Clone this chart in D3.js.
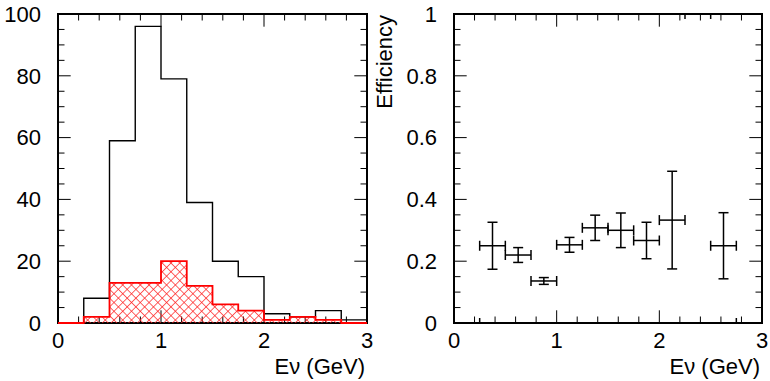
<!DOCTYPE html>
<html>
<head>
<meta charset="utf-8">
<script src="https://cdn.jsdelivr.net/npm/d3@7"></script>
<style>
  html, body { margin: 0; padding: 0; background: #fff; }
  svg { display: block; }
  text { font-family: "Liberation Sans", Arial, Helvetica, sans-serif; font-size: 22px; fill: #000; }
</style>
</head>
<body>
<svg id="chart" width="770" height="381"></svg>
<script>
// ---------------- data ----------------
const binEdges = [0, 0.25, 0.5, 0.75, 1.0, 1.25, 1.5, 1.75, 2.0, 2.25, 2.5, 2.75, 3.0];
const allEvents = [0, 8, 59, 96, 79, 39, 20, 15, 3, 2, 4, 1];      // black histogram
const selEvents = [0, 2, 13, 13, 20, 12, 6, 4, 1, 2, 1, 0];        // red hatched histogram
const effValues = [0, 0.25, 0.22, 0.136, 0.253, 0.308, 0.30, 0.267, 0.333, 1.0, 0.25, 0];
const effErrors = [0, 0.076, 0.024, 0.011, 0.024, 0.041, 0.056, 0.059, 0.158, 0, 0.107, 0];

const xTicksMajor = [0, 1, 2, 3];
const xTickLabels = ["0", "1", "2", "3"];
const leftYTicks = [0, 20, 40, 60, 80, 100];
const leftYLabels = ["0", "20", "40", "60", "80", "100"];
const rightYTicks = [0, 0.2, 0.4, 0.6, 0.8, 1];
const rightYLabels = ["0", "0.2", "0.4", "0.6", "0.8", "1"];
const xTitle = "E\u03bd (GeV)";
const rightYTitle = "Efficiency";

// ---------------- layout ----------------
const svg = d3.select("#chart");
const plotTop = 14, plotBottom = 323;
const leftPanel = { x0: 58, x1: 367 };
const rightPanel = { x0: 454, x1: 762 };
const majorLen = 12.7, minorLen = 6.5;

const xL = d3.scaleLinear().domain([0, 3]).range([leftPanel.x0, leftPanel.x1]);
const yL = d3.scaleLinear().domain([0, 100]).range([plotBottom, plotTop]);
const xR = d3.scaleLinear().domain([0, 3]).range([rightPanel.x0, rightPanel.x1]);
const yR = d3.scaleLinear().domain([0, 1]).range([plotBottom, plotTop]);

// hatch pattern
const hs = 6.2;
const defs = svg.append("defs");
const pat = defs.append("pattern")
  .attr("id", "xhatch")
  .attr("patternUnits", "userSpaceOnUse")
  .attr("width", hs).attr("height", hs)
  .attr("patternTransform", "rotate(45)");
pat.append("path")
  .attr("d", `M0,${hs / 2} H${hs} M${hs / 2},0 V${hs}`)
  .attr("stroke", "#ff2020").attr("stroke-width", 0.7).attr("fill", "none");

defs.append("clipPath").attr("id", "clipR")
  .append("rect")
  .attr("x", rightPanel.x0).attr("y", plotTop)
  .attr("width", rightPanel.x1 - rightPanel.x0).attr("height", plotBottom - plotTop);

function drawFrame(g, xs, ys, xMinorStep, yMinorStep, yTicks, yLabels) {
  const [xa, xb] = xs.range();
  const [yb, ya] = ys.range();
  const tk = g.append("g").attr("stroke", "#000").attr("stroke-width", 1);
  const xd = xs.domain();
  const xMinor = d3.range(xd[0], xd[1] + 1e-9, xMinorStep);
  xMinor.forEach(v => {
    const isMajor = Math.abs(v - Math.round(v)) < 1e-6;
    const L = isMajor ? majorLen : minorLen;
    const x = xs(v);
    tk.append("line").attr("x1", x).attr("x2", x).attr("y1", yb).attr("y2", yb - L);
    tk.append("line").attr("x1", x).attr("x2", x).attr("y1", ya).attr("y2", ya + L);
  });
  const yd = ys.domain();
  const yMinor = d3.range(yd[0], yd[1] + 1e-9, yMinorStep);
  yMinor.forEach(v => {
    const isMajor = yTicks.some(t => Math.abs(t - v) < 1e-6);
    const L = isMajor ? majorLen : minorLen;
    const y = ys(v);
    tk.append("line").attr("x1", xa).attr("x2", xa + L).attr("y1", y).attr("y2", y);
    tk.append("line").attr("x1", xb).attr("x2", xb - L).attr("y1", y).attr("y2", y);
  });
  g.append("rect")
    .attr("x", xa).attr("y", ya).attr("width", xb - xa).attr("height", yb - ya)
    .attr("fill", "none").attr("stroke", "#000").attr("stroke-width", 2);
  xTicksMajor.forEach((v, i) => {
    g.append("text").attr("x", xs(v)).attr("y", 348)
      .attr("text-anchor", "middle").text(xTickLabels[i]);
  });
  yTicks.forEach((v, i) => {
    g.append("text").attr("x", xa - 17).attr("y", ys(v) + 7.8)
      .attr("text-anchor", "end").text(yLabels[i]);
  });
  g.append("text").attr("x", xb - 2).attr("y", 374)
    .attr("text-anchor", "end").text(xTitle);
}

// ---------------- left panel ----------------
const gL = svg.append("g");
drawFrame(gL, xL, yL, 0.2, 5, leftYTicks, leftYLabels);

function histPoints(vals) {
  const pts = vals.map((v, i) => [binEdges[i], v]);
  pts.push([binEdges[binEdges.length - 1], vals[vals.length - 1]]);
  return pts;
}
const stepLine = d3.line().x(d => xL(d[0])).y(d => yL(d[1])).curve(d3.curveStepAfter);
const stepArea = d3.area().x(d => xL(d[0])).y0(yL(0)).y1(d => yL(d[1])).curve(d3.curveStepAfter);

gL.append("path").attr("d", stepLine(histPoints(allEvents)))
  .attr("fill", "none").attr("stroke", "#000").attr("stroke-width", 1.4);

gL.append("path").attr("d", stepArea(histPoints(selEvents)))
  .attr("fill", "url(#xhatch)").attr("stroke", "none");
gL.append("path").attr("d", stepLine(histPoints(selEvents)))
  .attr("fill", "none").attr("stroke", "#ff0000").attr("stroke-width", 1.8);

// ---------------- right panel ----------------
const gR = svg.append("g");
drawFrame(gR, xR, yR, 0.2, 0.05, rightYTicks, rightYLabels);

gR.append("text")
  .attr("transform", "translate(392,15) rotate(-90)")
  .attr("text-anchor", "end").text(rightYTitle);

const cap = 5;
const eb = gR.append("g").attr("clip-path", "url(#clipR)")
  .attr("stroke", "#000").attr("stroke-width", 1.5).attr("fill", "none");
effValues.forEach((v, i) => {
  const xa = xR(binEdges[i]), xb = xR(binEdges[i + 1]);
  const xc = xR((binEdges[i] + binEdges[i + 1]) / 2);
  const yc = yR(v);
  eb.append("line").attr("x1", xa).attr("x2", xb).attr("y1", yc).attr("y2", yc);
  eb.append("line").attr("x1", xa).attr("x2", xa).attr("y1", yc - cap).attr("y2", yc + cap);
  eb.append("line").attr("x1", xb).attr("x2", xb).attr("y1", yc - cap).attr("y2", yc + cap);
  const e = effErrors[i];
  if (e > 0) {
    const y1 = yR(v + e), y2 = yR(v - e);
    eb.append("line").attr("x1", xc).attr("x2", xc).attr("y1", y1).attr("y2", y2);
    eb.append("line").attr("x1", xc - cap).attr("x2", xc + cap).attr("y1", y1).attr("y2", y1);
    eb.append("line").attr("x1", xc - cap).attr("x2", xc + cap).attr("y1", y2).attr("y2", y2);
  }
});
</script>
</body>
</html>
